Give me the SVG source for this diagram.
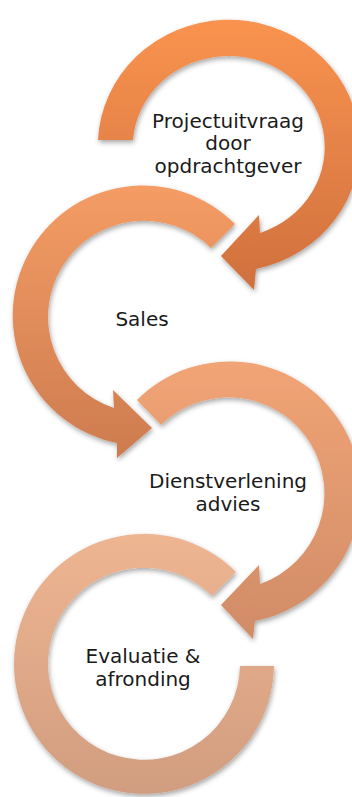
<svg xmlns="http://www.w3.org/2000/svg" width="352" height="797" viewBox="0 0 352 797">
<defs>
<filter id="sh" x="-20%" y="-20%" width="140%" height="140%">
<feDropShadow dx="1" dy="2.5" stdDeviation="2.5" flood-color="#000" flood-opacity="0.35"/>
</filter>
<linearGradient id="g1" gradientUnits="userSpaceOnUse" x1="0" y1="20" x2="0" y2="290">
<stop offset="0" stop-color="#F9934F"/><stop offset="1" stop-color="#D0703E"/>
</linearGradient>
<linearGradient id="g2" gradientUnits="userSpaceOnUse" x1="0" y1="186" x2="0" y2="460">
<stop offset="0" stop-color="#F49C64"/><stop offset="1" stop-color="#CD7B4F"/>
</linearGradient>
<linearGradient id="g3" gradientUnits="userSpaceOnUse" x1="0" y1="362" x2="0" y2="640">
<stop offset="0" stop-color="#F1A475"/><stop offset="1" stop-color="#D08C68"/>
</linearGradient>
<linearGradient id="g4" gradientUnits="userSpaceOnUse" x1="0" y1="535" x2="0" y2="795">
<stop offset="0" stop-color="#EEB591"/><stop offset="1" stop-color="#D19D80"/>
</linearGradient>
</defs>
<style>
.arc{filter:url(#sh)}
.lbl{font-family:"DejaVu Sans","Liberation Sans",sans-serif;font-size:20px;fill:#1a1a1a;text-anchor:middle}
</style>
<g id="connectors"></g>
<g id="node4">
<path class="arc" fill="url(#g4)" d="M 236 572 A 130 130 0 1 0 274 666 L 240 666 A 96 96 0 1 1 212 596 Z"/>
<text class="lbl" x="143" y="663">Evaluatie &amp;</text>
<text class="lbl" x="143" y="686">afronding</text>
</g>
<g id="node3">
<path class="arc" fill="url(#g3)" d="M 137 400 A 131 131 0 1 1 255 621 L 253 639 L 221 605 L 259 565 L 260 584 A 96 96 0 1 0 161 425 Z"/>
<text class="lbl" x="228" y="488">Dienstverlening</text>
<text class="lbl" x="228" y="511">advies</text>
</g>
<g id="node2">
<path class="arc" fill="url(#g2)" d="M 235 224 A 130 130 0 1 0 117 443 L 117 458 L 152 428 L 113 390 L 114 408 A 96 96 0 1 1 211 248 Z"/>
<text class="lbl" x="142" y="326">Sales</text>
</g>
<g id="node1">
<path class="arc" fill="url(#g1)" d="M 98 140 A 131 126 0 1 1 256 269 L 254 290 L 221 256 L 259 215 L 260 233 A 96 91 0 1 0 133 140 Z"/>
<text class="lbl" x="228" y="128">Projectuitvraag</text>
<text class="lbl" x="228" y="150">door</text>
<text class="lbl" x="228" y="173">opdrachtgever</text>
</g>
</svg>
